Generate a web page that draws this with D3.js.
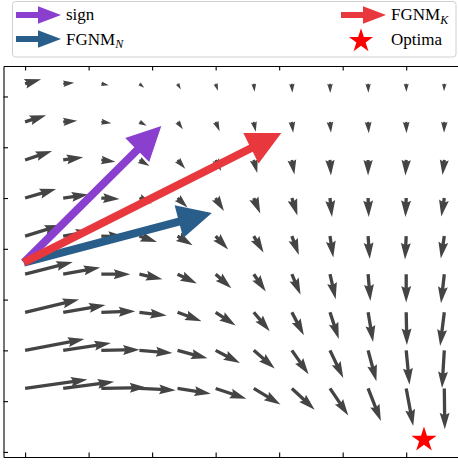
<!DOCTYPE html>
<html>
<head>
<meta charset="utf-8">
<script src="https://cdn.jsdelivr.net/npm/d3@7"></script>
<style>
  body { margin: 0; background: #fff; }
  text { font-family: 'Liberation Serif', 'DejaVu Serif', serif; }
</style>
</head>
<body>
<script>
// grid of the vector field (data units)
const gridX = [0, 0.6, 1.2, 1.8, 2.4, 3.0, 3.6, 4.2, 4.8, 5.4, 6.0, 6.6]
const gridY = [7.25, 6.5, 5.75, 5.0, 4.25, 3.5, 2.75, 2.0, 1.25]

// field components, one row per gridY value (top row first)
const U = [
  [1.6, 1.1, 0.75, 0.47, 0.33, 0.23, 0.08, 0.05, 0.03, 0.03, 0.02, -0.03],
  [2.1, 1.4, 1.0, 0.73, 0.53, 0.4, 0.2, 0.13, 0.1, 0.07, 0.03, -0.03],
  [2.7, 2.0, 1.4, 1.0, 0.77, 0.55, 0.35, 0.25, 0.1, 0.0, -0.08, -0.18],
  [3.1, 2.5, 1.83, 1.25, 1.0, 0.83, 0.65, 0.55, 0.2, 0.07, -0.08, -0.3],
  [3.6, 2.9, 2.35, 1.75, 1.5, 1.25, 0.98, 0.7, 0.33, 0.17, -0.12, -0.35],
  [4.77, 3.7, 2.9, 2.3, 1.93, 1.57, 1.2, 0.87, 0.57, 0.23, 0.0, -0.33],
  [5.4, 4.23, 3.4, 2.73, 2.4, 2.0, 1.6, 1.2, 0.88, 0.5, 0.07, -0.42],
  [5.93, 4.77, 3.83, 3.3, 3.0, 2.43, 2.1, 1.67, 1.33, 0.83, 0.33, -0.23],
  [6.23, 5.1, 4.5, 3.63, 3.33, 3.07, 2.67, 2.28, 1.83, 1.28, 0.7, 0.05]
]
const V = [
  [0.45, 0.1, -0.15, -0.4, -0.57, -0.7, -0.8, -0.9, -0.93, -0.9, -0.83, -0.75],
  [0.67, 0.1, -0.15, -0.4, -0.73, -0.93, -1.0, -1.1, -1.1, -1.15, -1.13, -1.1],
  [0.9, 0.27, -0.17, -0.6, -0.87, -1.1, -1.3, -1.45, -1.55, -1.55, -1.55, -1.5],
  [0.9, 0.35, -0.1, -0.55, -0.95, -1.3, -1.55, -1.75, -1.9, -1.9, -1.9, -1.85],
  [1.1, 0.5, -0.05, -0.6, -0.92, -1.33, -1.65, -1.9, -2.15, -2.3, -2.33, -2.25],
  [1.23, 0.67, 0.0, -0.5, -0.93, -1.4, -1.72, -2.05, -2.5, -2.67, -2.83, -2.9],
  [1.27, 0.73, 0.1, -0.33, -0.9, -1.33, -1.9, -2.3, -2.67, -2.97, -3.27, -3.37],
  [1.13, 0.73, 0.07, -0.27, -0.8, -1.27, -1.82, -2.4, -2.77, -3.1, -3.43, -3.77],
  [0.9, 0.67, 0.1, -0.17, -0.53, -1.03, -1.6, -2.12, -2.7, -3.25, -3.75, -4.08]
]

// update directions from the common start point
const methods = ['sign', 'FGNM_N', 'FGNM_K']
const methodU = [13.75, 18.8, 25.75]
const methodV = [13.65, 4.95, 12.95]
const methodColors = ['#8a3fcf', '#2a5e8a', '#e8383d']
const start = [-0.02, 3.73]

const optimum = [6.28, 0.24]

const xTicks = [0, 1, 2, 3, 4, 5, 6]
const yTicks = [0, 1, 2, 3, 4, 5, 6, 7]

const width = 458
const height = 464

const svg = d3.select('body')
  .append('svg')
  .attr('width', width)
  .attr('height', height)

const x = d3.scaleLinear().domain([-0.34, 6.91]).range([3.5, 464])
const y = d3.scaleLinear().domain([-0.1, 7.6]).range([457, 66])
// field units -> pixels (same in both directions, like quiver angles='uv')
const len = d3.scaleLinear().domain([0, 1]).range([0, 10])

// matplotlib-style quiver polygon, in shaft widths
const quiverShape = (L) => {
  let xs, ys
  if (L < 5) {
    const s = L / 5
    xs = [0, 0.5, 0, 5].map(v => v * s)
    ys = [0.5, 0.5, 1.5, 0].map(v => v * s)
  } else {
    xs = [0, L - 4.5, L - 5, L]
    ys = [0.5, 0.5, 1.5, 0]
  }
  return [0, 1, 2, 3, 2, 1, 0].map((k, j) => [xs[k], j > 3 ? -ys[k] : ys[k]])
}

const place = (pts, x0, y0, ang, scale) => {
  const c = Math.cos(ang), s = Math.sin(ang)
  return pts.map(p => [x0 + (p[0] * c - p[1] * s) * scale, y0 + (p[0] * s + p[1] * c) * scale])
}

const line = d3.line()

const quiverPath = (x0, y0, dx, dy, w) => {
  const L = Math.hypot(dx, dy) / w
  return line(place(quiverShape(L), x0, y0, Math.atan2(dy, dx), w)) + 'Z'
}

const bigArrowPath = (x0, y0, dx, dy, w, hw, hl) => {
  const L = Math.hypot(dx, dy)
  const pts = [[0, w / 2], [L - hl, w / 2], [L - hl, hw / 2], [L, 0],
    [L - hl, -hw / 2], [L - hl, -w / 2], [0, -w / 2]]
  return line(place(pts, x0, y0, Math.atan2(dy, dx), 1)) + 'Z'
}

// axes frame and inward ticks
svg.append('g')
  .attr('transform', `translate(0,${y.range()[0]})`)
  .call(d3.axisBottom(x).tickValues(xTicks).tickFormat('').tickSizeInner(-4.5).tickSizeOuter(0))
svg.append('g')
  .attr('transform', `translate(0,${y.range()[1]})`)
  .call(d3.axisTop(x).tickValues(xTicks).tickFormat('').tickSizeInner(-4.5).tickSizeOuter(0))
svg.append('g')
  .attr('transform', `translate(${x.range()[0]},0)`)
  .call(d3.axisLeft(y).tickValues(yTicks).tickFormat('').tickSizeInner(-4.5).tickSizeOuter(0))
svg.selectAll('.domain, .tick line').attr('stroke', '#000').attr('stroke-width', 1.1)

// vector field
const field = []
gridY.forEach((gy, r) => {
  gridX.forEach((gx, c) => {
    field.push({ x: gx, y: gy, u: U[r][c], v: V[r][c] })
  })
})

svg.append('g')
  .attr('class', 'quiver')
  .selectAll('path')
  .data(field)
  .enter()
  .append('path')
  .attr('d', d => quiverPath(x(d.x), y(d.y), len(d.u), -len(d.v), 3.3))
  .attr('fill', '#444444')

// method arrows
svg.append('g')
  .attr('class', 'methods')
  .selectAll('path')
  .data(methods)
  .enter()
  .append('path')
  .attr('d', (d, i) => bigArrowPath(x(start[0]), y(start[1]), len(methodU[i]), -len(methodV[i]), 8, 34, 34))
  .attr('fill', (d, i) => methodColors[i])

// optimum
const star = d3.symbol().type(d3.symbolStar)
svg.append('path')
  .attr('d', star.size(13.3 * 13.3 / 0.8908)())
  .attr('transform', `translate(${x(optimum[0])},${y(optimum[1])})`)
  .attr('fill', '#ff0000')

// legend
const legend = svg.append('g').attr('class', 'legend')
legend.append('rect')
  .attr('x', 12.5).attr('y', 1.5)
  .attr('width', 443.5).attr('height', 55.5)
  .attr('rx', 3)
  .attr('fill', '#fff')
  .attr('fill-opacity', 0.8)
  .attr('stroke', '#d0d0d0')
  .attr('stroke-width', 1)

const legendItems = [
  { label: 'sign', sub: null, color: methodColors[0], ix: 16, iy: 15, tx: 66, ty: 20 },
  { label: 'FGNM', sub: 'N', color: methodColors[1], ix: 16, iy: 39, tx: 66, ty: 44.5 },
  { label: 'FGNM', sub: 'K', color: methodColors[2], ix: 341, iy: 15, tx: 391, ty: 20 }
]

legendItems.forEach(d => {
  legend.append('path')
    .attr('d', bigArrowPath(d.ix, d.iy, 45, 0, 6, 17.5, 23))
    .attr('fill', d.color)
  const t = legend.append('text')
    .attr('x', d.tx).attr('y', d.ty)
    .attr('font-size', 17)
    .attr('fill', '#000')
    .text(d.label)
  if (d.sub) {
    t.append('tspan')
      .attr('font-size', 12)
      .attr('font-style', 'italic')
      .attr('dy', 3.5)
      .text(d.sub)
  }
})

legend.append('path')
  .attr('d', star.size(12.7 * 12.7 / 0.8908)())
  .attr('transform', 'translate(361,41)')
  .attr('fill', '#ff0000')
legend.append('text')
  .attr('x', 391).attr('y', 44.5)
  .attr('font-size', 17)
  .attr('fill', '#000')
  .text('Optima')
</script>
</body>
</html>
